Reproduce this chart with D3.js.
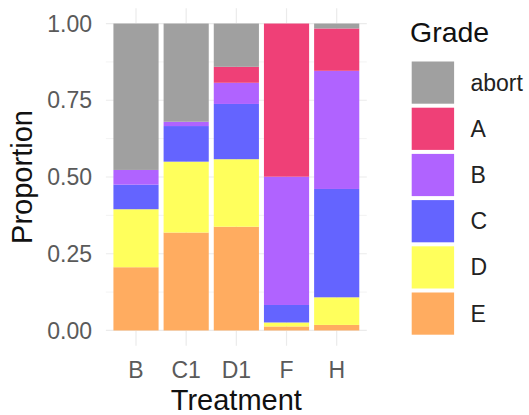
<!DOCTYPE html>
<html><head><meta charset="utf-8">
<script src="https://cdn.jsdelivr.net/npm/d3@7"></script>
<style>body{margin:0;background:#fff}svg{display:block}text{font-family:"Liberation Sans",Arial,sans-serif}</style>
</head><body><svg id="c" width="529" height="415"></svg>
<script>
const treatments = ["B","C1","D1","F","H"];
const grades = ["abort","A","B","C","D","E"];
const colors = ["#A0A0A0","#EF4077","#B063FF","#6464FF","#FFFF5C","#FFAC60"];
// proportions per grade, in treatment order
const abortVals = [0.477,0.320,0.141,0.000,0.016];
const aVals     = [0.000,0.000,0.052,0.499,0.138];
const bVals     = [0.048,0.014,0.069,0.418,0.385];
const cVals     = [0.080,0.116,0.180,0.057,0.353];
const dVals     = [0.189,0.231,0.220,0.013,0.090];
const eVals     = [0.206,0.319,0.338,0.013,0.018];
const yTicks = [0,0.25,0.5,0.75,1];
const yTickLabels = ["0.00","0.25","0.50","0.75","1.00"];
const yMinor = [0.125,0.375,0.625,0.875];

const series = {abort:abortVals,A:aVals,B:bVals,C:cVals,D:dVals,E:eVals};
const rows = treatments.map((t,i)=>{const r={t};grades.forEach(g=>r[g]=series[g][i]);return r;});
// stack: E at bottom, abort at top
const stackOrder = grades.slice().reverse();
const stacked = d3.stack().keys(stackOrder)(rows);
const color = d3.scaleOrdinal().domain(grades).range(colors);

const svg = d3.select("#c");
const L=105.9,R=366.8;
const y = d3.scaleLinear().domain([-0.05,1.05]).range([345.8,8.2]);
const x = d3.scaleBand().domain(treatments).range([L,R]).paddingInner(0.1).paddingOuter(0.15);

// grid
const g = svg.append("g");
g.selectAll(".ymin").data(yMinor).join("line").attr("x1",L).attr("x2",R).attr("y1",d=>y(d)).attr("y2",d=>y(d)).attr("stroke","#EBEBEB").attr("stroke-width",0.6);
g.selectAll(".ymaj").data(yTicks).join("line").attr("x1",L).attr("x2",R).attr("y1",d=>y(d)).attr("y2",d=>y(d)).attr("stroke","#EBEBEB").attr("stroke-width",1.2);
g.selectAll(".xmaj").data(treatments).join("line").attr("x1",d=>x(d)+x.bandwidth()/2).attr("x2",d=>x(d)+x.bandwidth()/2).attr("y1",8.2).attr("y2",345.8).attr("stroke","#EBEBEB").attr("stroke-width",1.2);

// bars
svg.append("g").selectAll("g").data(stacked).join("g").attr("fill",d=>color(d.key))
  .selectAll("rect").data(d=>d).join("rect")
  .attr("x",d=>x(d.data.t)).attr("width",x.bandwidth())
  .attr("y",d=>y(d[1])).attr("height",d=>Math.max(0,y(d[0])-y(d[1])));

// axes text
svg.append("g").selectAll("text").data(yTicks).join("text")
  .attr("x",92).attr("y",d=>y(d)).attr("dy","0.35em").attr("text-anchor","end")
  .attr("font-size",23).attr("fill","#5a5a5a").text((d,i)=>yTickLabels[i]);
svg.append("g").selectAll("text").data(treatments).join("text")
  .attr("x",d=>x(d)+x.bandwidth()/2).attr("y",378).attr("text-anchor","middle")
  .attr("font-size",23).attr("fill","#5a5a5a").text(d=>d);
svg.append("text").attr("x",x("D1")+x.bandwidth()/2).attr("y",409.5).attr("text-anchor","middle")
  .attr("font-size",29).attr("fill","#111").text("Treatment");
svg.append("text").attr("transform","translate(32,177) rotate(-90)").attr("text-anchor","middle")
  .attr("font-size",29).attr("fill","#111").text("Proportion");

// legend
const leg = svg.append("g");
leg.append("text").attr("x",410).attr("y",41.5).attr("font-size",28.5).attr("fill","#111").text("Grade");
const ky = d3.scaleBand().domain(grades).range([59.5,336.7]);
leg.selectAll("rect").data(grades).join("rect")
  .attr("x",411.7).attr("y",d=>ky(d)+2).attr("width",42.4).attr("height",ky.bandwidth()-4).attr("fill",d=>color(d));
leg.selectAll(".lt").data(grades).join("text")
  .attr("x",470.5).attr("y",d=>ky(d)+ky.bandwidth()/2).attr("dy","0.35em")
  .attr("font-size",23).attr("fill","#222").text(d=>d);
</script></body></html>
